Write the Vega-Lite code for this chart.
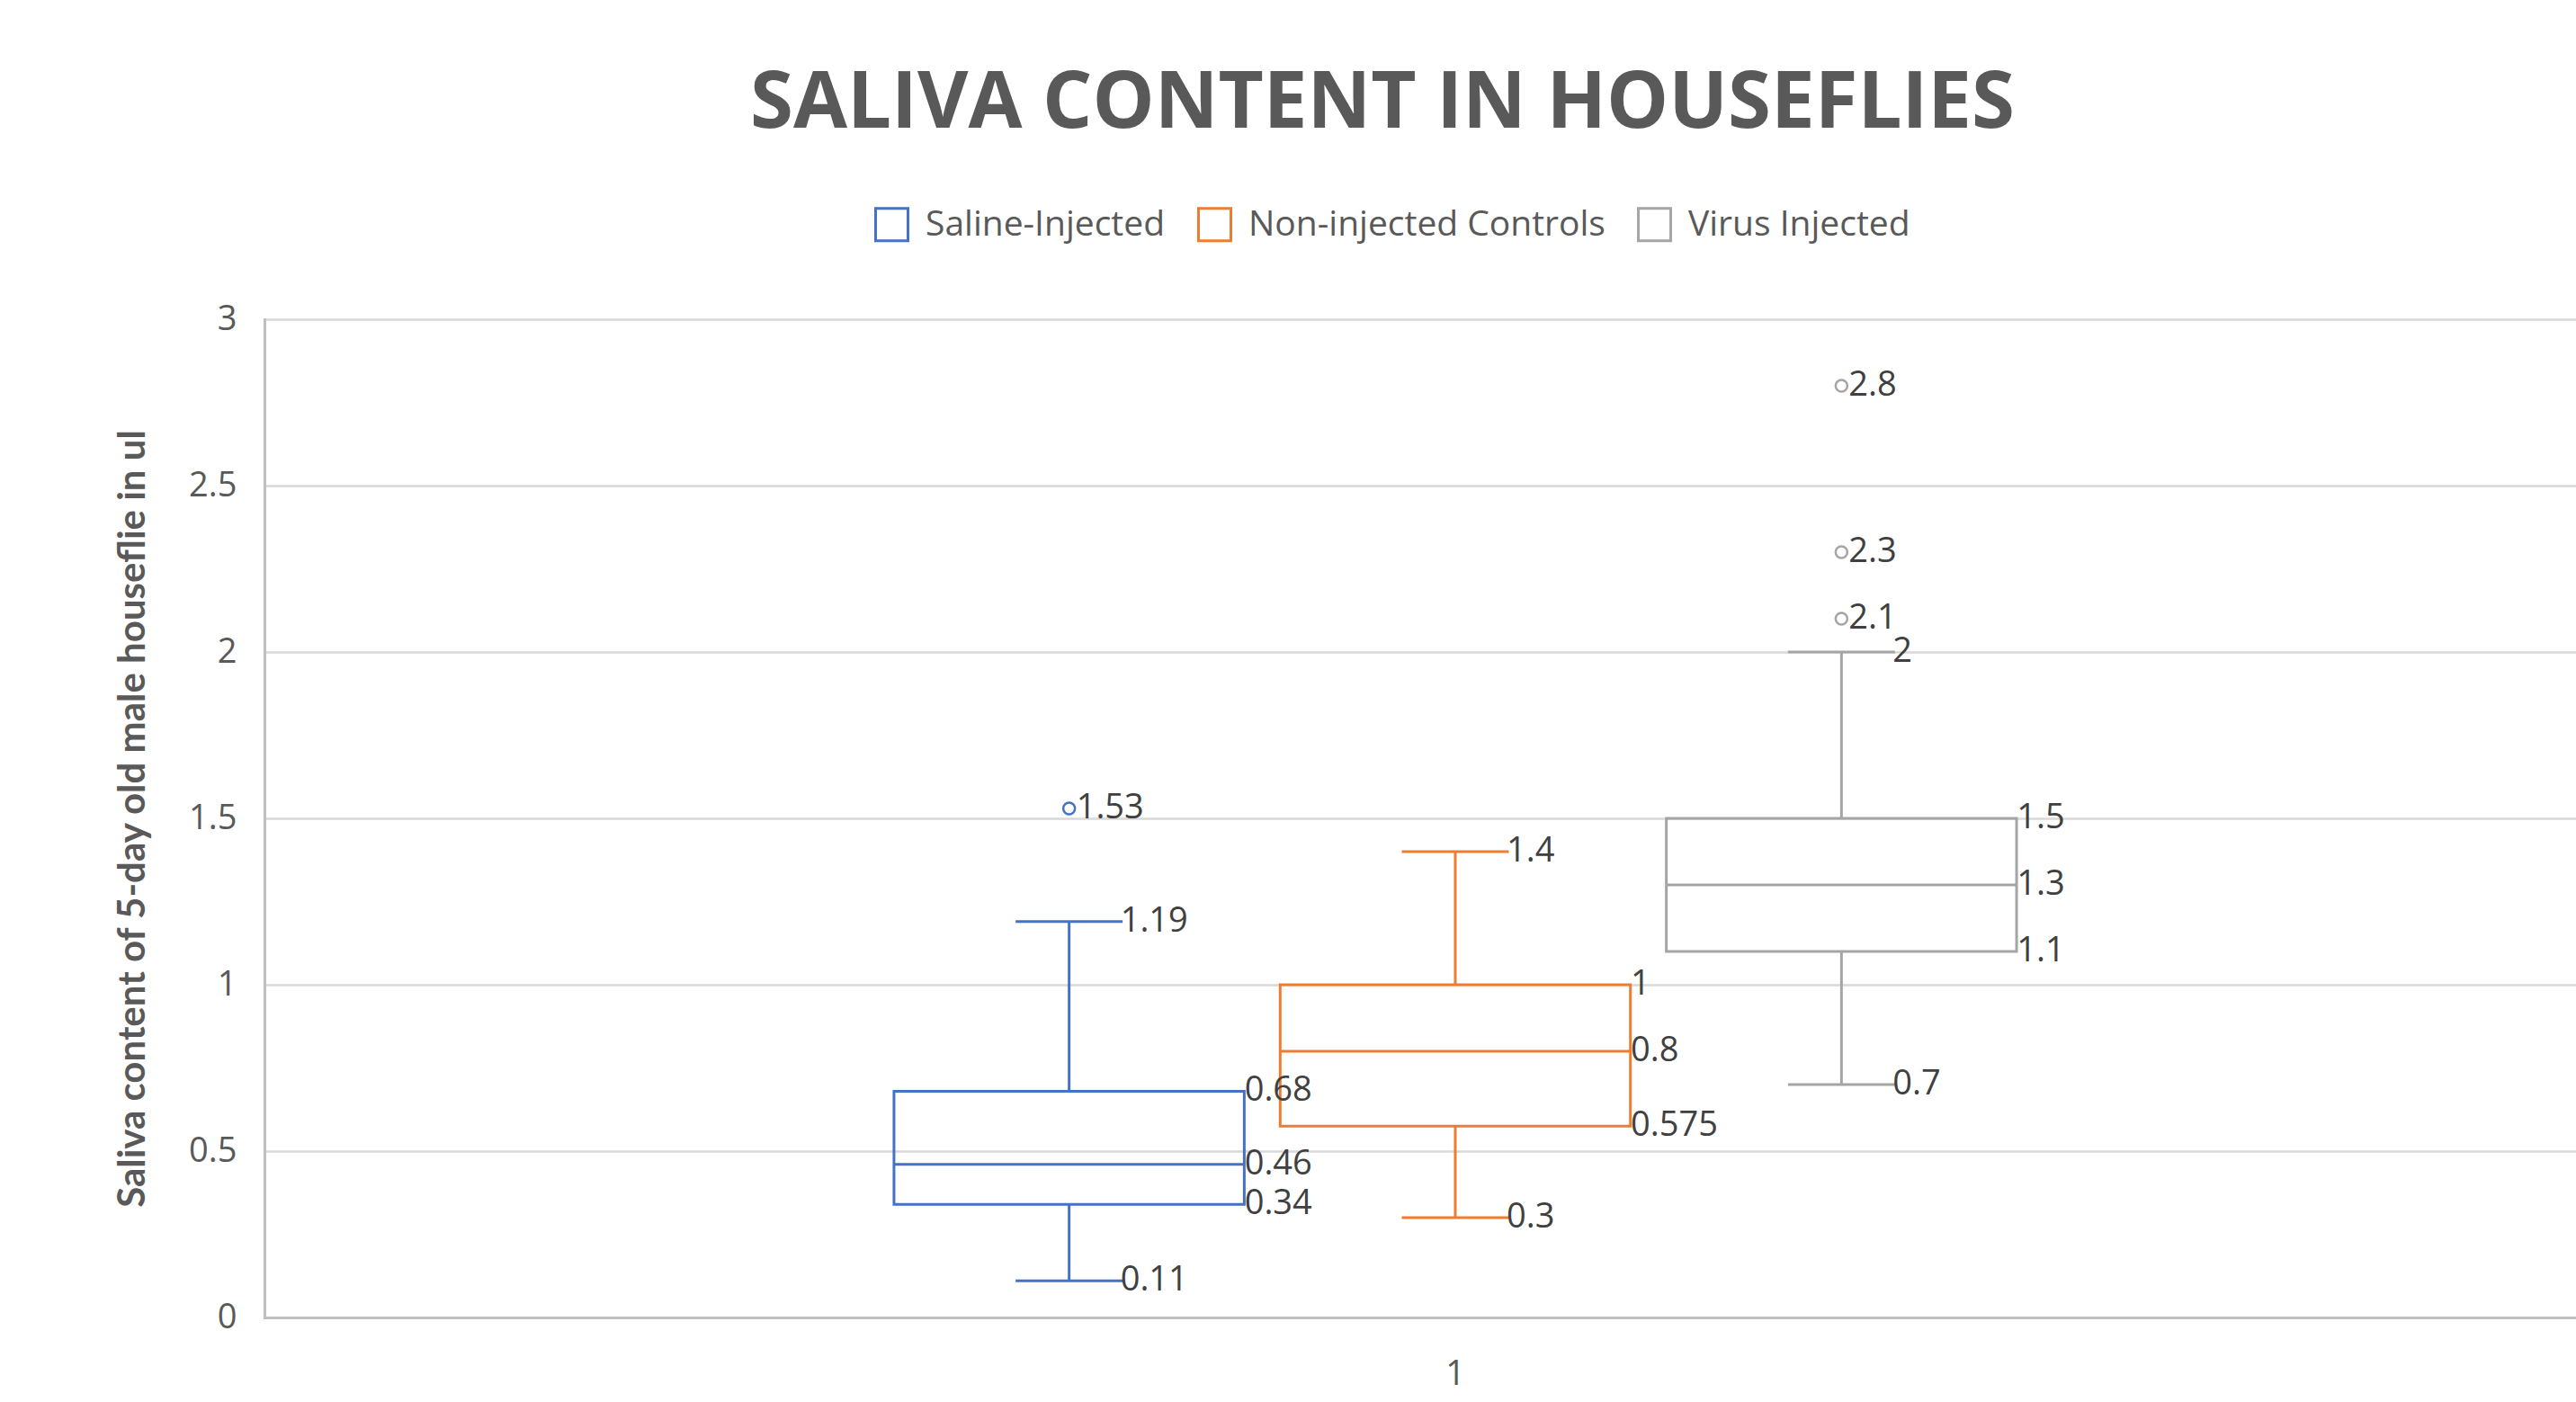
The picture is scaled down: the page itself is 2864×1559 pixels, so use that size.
{
  "$schema": "https://vega.github.io/schema/vega-lite/v6.json",
  "width": 2648,
  "height": 1110,
  "autosize": {"type": "none"},
  "padding": {"left": 294, "top": 355, "right": -78, "bottom": 94},
  "background": "white",
  "title": {
    "text": "SALIVA CONTENT IN HOUSEFLIES",
    "font": "Open Sans",
    "fontSize": 87,
    "fontWeight": "bold",
    "color": "#595959",
    "anchor": "middle",
    "dx": -81,
    "offset": 70
  },
  "datasets": {
    "stats": [
      {"cat": "1", "series": "Saline-Injected", "lower": 0.11, "q1": 0.34, "median": 0.46, "q3": 0.68, "upper": 1.19},
      {"cat": "1", "series": "Non-injected Controls", "lower": 0.3, "q1": 0.575, "median": 0.8, "q3": 1.0, "upper": 1.4},
      {"cat": "1", "series": "Virus Injected", "lower": 0.7, "q1": 1.1, "median": 1.3, "q3": 1.5, "upper": 2.0}
    ],
    "outliers": [
      {"cat": "1", "series": "Saline-Injected", "value": 1.53},
      {"cat": "1", "series": "Virus Injected", "value": 2.1},
      {"cat": "1", "series": "Virus Injected", "value": 2.3},
      {"cat": "1", "series": "Virus Injected", "value": 2.8}
    ]
  },
  "encoding": {
    "x": {
      "field": "cat",
      "type": "nominal",
      "scale": {"paddingInner": 0, "paddingOuter": 0.5608},
      "axis": {
        "title": null,
        "labelAngle": 0,
        "labelFont": "Open Sans",
        "labelFontSize": 38,
        "labelColor": "#595959",
        "labelPadding": 44,
        "ticks": false,
        "domainColor": "#bfbfbf",
        "domainWidth": 3,
        "grid": false
      }
    },
    "xOffset": {
      "field": "series",
      "type": "nominal",
      "scale": {"domain": ["Saline-Injected", "Non-injected Controls", "Virus Injected"], "paddingInner": 0.093, "paddingOuter": 0}
    }
  },
  "layer": [
    {
      "data": {"name": "stats"},
      "mark": {"type": "bar", "fill": "white", "fillOpacity": 0, "strokeWidth": 3},
      "encoding": {
        "y": {
          "field": "q1",
          "type": "quantitative",
          "scale": {"domain": [0, 3], "nice": false, "zero": true},
          "axis": {
            "title": "Saliva content of 5-day old male houseflie in ul",
            "titleFont": "Lato",
            "titleFontSize": 42,
            "titleFontWeight": "bold",
            "titleColor": "#595959",
            "titlePadding": 40,
            "values": [0, 0.5, 1, 1.5, 2, 2.5, 3],
            "format": "~g",
            "labelFont": "Open Sans",
            "labelFontSize": 38,
            "labelColor": "#595959",
            "labelPadding": 31,
            "ticks": false,
            "domainColor": "#bfbfbf",
            "domainWidth": 3,
            "grid": true,
            "gridColor": "#d9d9d9",
            "gridWidth": 2.5
          }
        },
        "y2": {"field": "q3"},
        "stroke": {
          "field": "series",
          "type": "nominal",
          "scale": {"domain": ["Saline-Injected", "Non-injected Controls", "Virus Injected"], "range": ["#4472c4", "#ed7d31", "#a5a5a5"]},
          "legend": {
            "title": null,
            "orient": "none",
            "direction": "horizontal",
            "legendX": 678,
            "legendY": -125,
            "symbolType": "square",
            "symbolSize": 1296,
            "symbolStrokeWidth": 3,
            "symbolFillColor": "white",
            "symbolOpacity": 1,
            "labelFont": "Open Sans",
            "labelFontSize": 39,
            "labelColor": "#595959",
            "labelLimit": 0,
            "labelOffset": 18,
            "columnPadding": 30,
            "padding": 0,
            "encode": {
              "symbols": {"update": {"fill": {"value": "white"}, "fillOpacity": {"value": 1}}}
            }
          }
        }
      }
    },
    {
      "data": {"name": "stats"},
      "mark": {"type": "bar", "fill": "white", "fillOpacity": 0, "strokeWidth": 3},
      "encoding": {
        "y": {"field": "median", "type": "quantitative"},
        "y2": {"field": "median"},
        "stroke": {"field": "series", "type": "nominal"}
      }
    },
    {
      "data": {"name": "stats"},
      "mark": {"type": "rule", "strokeWidth": 3},
      "encoding": {
        "y": {"field": "q3", "type": "quantitative"},
        "y2": {"field": "upper"},
        "stroke": {"field": "series", "type": "nominal"}
      }
    },
    {
      "data": {"name": "stats"},
      "mark": {"type": "rule", "strokeWidth": 3},
      "encoding": {
        "y": {"field": "lower", "type": "quantitative"},
        "y2": {"field": "q1"},
        "stroke": {"field": "series", "type": "nominal"}
      }
    },
    {
      "data": {"name": "stats"},
      "transform": [{"fold": ["lower", "upper"], "as": ["stat", "v"]}],
      "mark": {"type": "tick", "size": 116, "thickness": 0.01, "fill": "white", "fillOpacity": 0, "strokeWidth": 3, "opacity": 1},
      "encoding": {
        "y": {"field": "v", "type": "quantitative"},
        "stroke": {"field": "series", "type": "nominal"}
      }
    },
    {
      "data": {"name": "outliers"},
      "mark": {"type": "point", "shape": "circle", "filled": false, "size": 170, "strokeWidth": 2.5, "opacity": 1},
      "encoding": {
        "y": {"field": "value", "type": "quantitative"},
        "stroke": {"field": "series", "type": "nominal"}
      }
    },
    {
      "data": {"name": "stats"},
      "transform": [{"fold": ["lower", "upper"], "as": ["stat", "v"]}],
      "mark": {"type": "text", "align": "left", "baseline": "middle", "dx": 57, "font": "Open Sans", "fontSize": 38, "color": "#404040"},
      "encoding": {
        "y": {"field": "v", "type": "quantitative"},
        "text": {"field": "v", "type": "quantitative", "format": ""}
      }
    },
    {
      "data": {"name": "stats"},
      "transform": [{"fold": ["q1", "median", "q3"], "as": ["stat", "v"]}],
      "mark": {"type": "text", "align": "left", "baseline": "middle", "dx": 195, "font": "Open Sans", "fontSize": 38, "color": "#404040"},
      "encoding": {
        "y": {"field": "v", "type": "quantitative"},
        "text": {"field": "v", "type": "quantitative", "format": ""}
      }
    },
    {
      "data": {"name": "outliers"},
      "mark": {"type": "text", "align": "left", "baseline": "middle", "dx": 8, "font": "Open Sans", "fontSize": 38, "color": "#404040"},
      "encoding": {
        "y": {"field": "value", "type": "quantitative"},
        "text": {"field": "value", "type": "quantitative", "format": ""}
      }
    }
  ],
  "config": {
    "view": {"stroke": null},
    "axis": {"domainCap": "square"}
  }
}
